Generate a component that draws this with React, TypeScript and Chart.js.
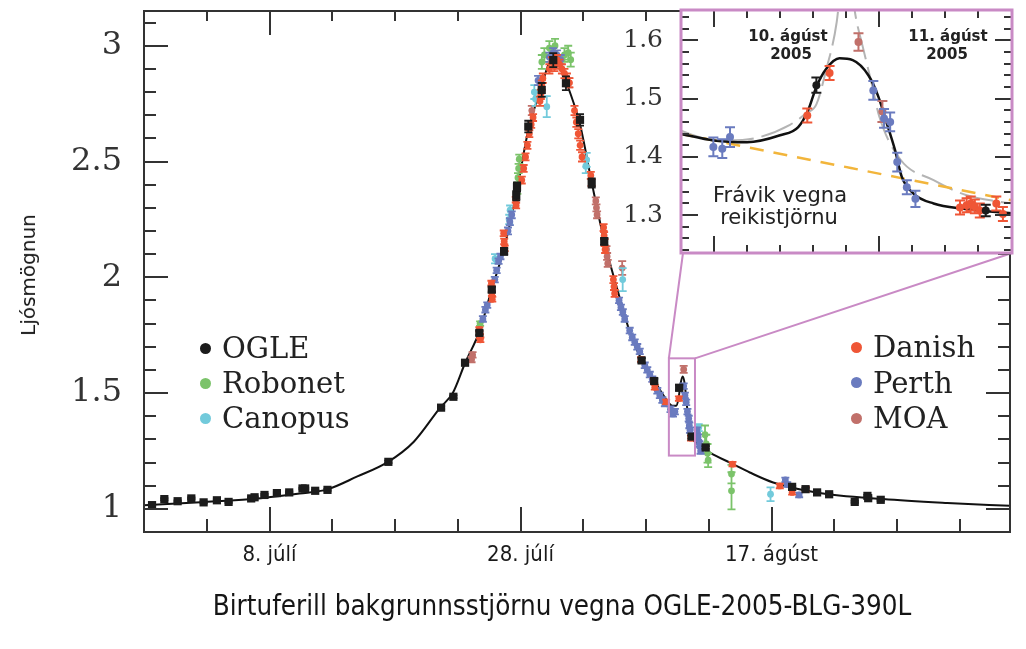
import React, { useEffect, useRef } from 'react';
import { Chart, registerables } from 'chart.js';

Chart.register(...registerables);

type P = [number, number, number];
type XY = [number, number];

// ---------- axis ticks (x: day counted from 30 June 2005, so 1 = 1. júlí) ----------
const xTickDays = [3, 8, 13, 18, 23, 28, 33, 38, 43, 48, 53, 58, 63];
const xTickText = ['', '8. júlí', '', '', '', '28. júlí', '', '', '', '17. ágúst', '', '', ''];
const yTickValues = [1.0, 1.1, 1.2, 1.3, 1.4, 1.5, 1.6, 1.7, 1.8, 1.9, 2.0, 2.1, 2.2, 2.3, 2.4, 2.5, 2.6, 2.7, 2.8, 2.9, 3.0, 3.1];
const yTickText = ['1', '', '', '', '', '1.5', '', '', '', '', '2', '', '', '', '', '2.5', '', '', '', '', '3', ''];

const insetXTicks = [40.0, 40.2, 40.4, 40.6, 40.8, 41.0, 41.2, 41.4, 41.6];
const insetXLong = [true, false, false, false, false, true, false, false, false];
const insetYTicks = [1.24, 1.26, 1.28, 1.3, 1.32, 1.34, 1.36, 1.38, 1.4, 1.42, 1.44, 1.46, 1.48, 1.5, 1.52, 1.54, 1.56, 1.58, 1.6, 1.62, 1.64];
const insetYText = ['', '', '', '1.3', '', '', '', '', '1.4', '', '', '', '', '1.5', '', '', '', '', '1.6', '', ''];

// ---------- main light curve: model ----------
const modelCurve: XY[] = [
  [-2, 1.015], [2.5, 1.029], [7.3, 1.046], [10.4, 1.066], [12.6, 1.084], [15, 1.14], [17.45, 1.203],
  [19.5, 1.29], [21.6, 1.437], [22.6, 1.5], [23.6, 1.632], [24.72, 1.765], [25.7, 1.947], [26.69, 2.125],
  [27.66, 2.36], [28.62, 2.635], [29.69, 2.825], [30.2, 2.915], [30.75, 2.952], [31.3, 2.905], [31.62, 2.85],
  [32.74, 2.66], [33.67, 2.41], [34.7, 2.15], [35.7, 1.95], [36.85, 1.74], [37.65, 1.645], [38.7, 1.55],
  [39.64, 1.47], [40.1, 1.445], [40.4, 1.445], [40.6, 1.48], [40.75, 1.54], [40.92, 1.572], [41.08, 1.54],
  [41.25, 1.45], [41.45, 1.36], [41.65, 1.31], [42.0, 1.285], [42.6, 1.262], [43.1, 1.243], [44.94, 1.193],
  [46.27, 1.157], [48.13, 1.114], [51.58, 1.071], [56.89, 1.042], [62, 1.025], [67, 1.013],
];

// ---------- main observations [day, magnification, error] ----------
const ogleMain: P[] = [
  [-1.36, 1.016, 0.004], [-0.38, 1.042, 0.004], [0.68, 1.033, 0.004], [1.77, 1.045, 0.004],
  [2.75, 1.028, 0.004], [3.81, 1.037, 0.004], [4.74, 1.03, 0.004], [6.54, 1.045, 0.004],
  [6.81, 1.05, 0.004], [7.6, 1.06, 0.004], [8.59, 1.068, 0.004], [9.57, 1.071, 0.004],
  [10.63, 1.088, 0.004], [10.84, 1.088, 0.004], [11.64, 1.078, 0.004], [12.62, 1.082, 0.004],
  [17.47, 1.203, 0.005], [21.67, 1.437, 0.006], [22.65, 1.484, 0.006], [23.58, 1.631, 0.01],
  [24.72, 1.76, 0.01], [25.71, 1.947, 0.012], [26.69, 2.112, 0.015], [27.66, 2.352, 0.02],
  [27.72, 2.39, 0.02], [28.62, 2.651, 0.025], [29.69, 2.809, 0.03], [30.61, 2.938, 0.03],
  [31.62, 2.838, 0.03], [32.74, 2.68, 0.025], [33.67, 2.407, 0.02], [34.67, 2.155, 0.015],
  [37.65, 1.641, 0.01], [38.65, 1.552, 0.01], [40.64, 1.523, 0.012], [41.63, 1.312, 0.008],
  [42.75, 1.265, 0.006], [49.64, 1.095, 0.005], [50.71, 1.085, 0.005], [51.63, 1.071, 0.004],
  [52.59, 1.063, 0.004], [54.63, 1.03, 0.004], [55.64, 1.056, 0.004], [55.7, 1.046, 0.004],
  [56.7, 1.039, 0.004],
];
const robonetMain: P[] = [
  [24.78, 1.8, 0.01], [27.75, 2.38, 0.02], [27.8, 2.43, 0.02], [27.85, 2.47, 0.02], [27.9, 2.51, 0.02],
  [29.7, 2.93, 0.03], [29.9, 2.96, 0.03], [30.3, 2.99, 0.03], [30.75, 3.0, 0.03], [31.5, 2.96, 0.03],
  [31.8, 2.97, 0.03], [32.0, 2.94, 0.03],
  [42.7, 1.32, 0.04], [42.8, 1.28, 0.04], [42.9, 1.24, 0.04], [42.95, 1.21, 0.03],
  [44.81, 1.15, 0.04], [44.81, 1.078, 0.08],
];
const canopusMain: P[] = [
  [25.97, 2.08, 0.02], [27.1, 2.25, 0.02], [27.17, 2.29, 0.02], [29.1, 2.8, 0.03], [29.2, 2.77, 0.03],
  [30.09, 2.737, 0.045], [33.2, 2.48, 0.03], [33.27, 2.507, 0.03], [36.14, 1.99, 0.05],
  [42.2, 1.351, 0.015], [47.92, 1.063, 0.03],
];
const danishMain: P[] = [
  [24.72, 1.775, 0.01], [24.76, 1.745, 0.01], [24.8, 1.73, 0.01],
  [25.68, 1.975, 0.01], [25.72, 1.93, 0.01], [25.75, 1.905, 0.01],
  [26.66, 2.19, 0.012], [26.7, 2.155, 0.012], [26.74, 2.125, 0.012],
  [27.62, 2.335, 0.012], [27.65, 2.31, 0.012],
  [28.1, 2.42, 0.015], [28.25, 2.47, 0.015], [28.4, 2.52, 0.015], [28.55, 2.57, 0.015], [28.7, 2.62, 0.015],
  [28.85, 2.66, 0.015], [29.0, 2.69, 0.015],
  [29.55, 2.76, 0.02], [29.62, 2.79, 0.02], [29.7, 2.83, 0.02], [29.78, 2.86, 0.02],
  [30.3, 2.9, 0.02], [30.5, 2.93, 0.02], [30.7, 2.91, 0.02], [30.9, 2.94, 0.02], [31.1, 2.92, 0.02],
  [31.3, 2.9, 0.02], [31.5, 2.88, 0.02], [31.7, 2.86, 0.02], [31.9, 2.84, 0.02],
  [32.3, 2.72, 0.02], [32.45, 2.67, 0.02], [32.6, 2.62, 0.02], [32.75, 2.57, 0.02], [32.9, 2.52, 0.02],
  [33.6, 2.44, 0.015], [33.66, 2.41, 0.015],
  [34.62, 2.215, 0.015], [34.66, 2.18, 0.015], [34.7, 2.15, 0.015], [34.74, 2.12, 0.015],
  [35.4, 1.99, 0.015], [35.45, 1.96, 0.015], [35.5, 1.93, 0.015],
  [37.6, 1.645, 0.01], [38.62, 1.555, 0.01], [38.7, 1.525, 0.01],
  [39.6, 1.462, 0.01], [40.62, 1.476, 0.01], [41.58, 1.305, 0.01],
  [44.89, 1.193, 0.01], [48.66, 1.099, 0.01], [49.64, 1.071, 0.01], [50.73, 1.085, 0.01],
];
const perthMain: P[] = [
  [25.0, 1.82, 0.012], [25.2, 1.86, 0.012], [25.35, 1.88, 0.012],
  [25.95, 1.99, 0.012], [26.1, 2.03, 0.012], [26.25, 2.07, 0.012], [26.4, 2.09, 0.012],
  [27.0, 2.2, 0.015], [27.15, 2.24, 0.015], [27.3, 2.27, 0.015],
  [29.4, 2.85, 0.02], [30.3, 2.95, 0.02], [30.6, 2.97, 0.02], [30.9, 2.96, 0.02], [31.2, 2.94, 0.02],
  [35.85, 1.9, 0.012], [36.0, 1.87, 0.012], [36.15, 1.85, 0.012], [36.3, 1.82, 0.012],
  [36.7, 1.77, 0.012], [36.9, 1.74, 0.012], [37.1, 1.72, 0.012], [37.3, 1.7, 0.012], [37.5, 1.68, 0.012],
  [37.9, 1.62, 0.012], [38.1, 1.6, 0.012], [38.3, 1.58, 0.012], [38.5, 1.56, 0.012],
  [38.9, 1.51, 0.012], [39.1, 1.49, 0.012], [39.3, 1.47, 0.012], [39.5, 1.455, 0.012],
  [39.95, 1.43, 0.012], [40.15, 1.41, 0.012], [40.3, 1.42, 0.012],
  [41.0, 1.53, 0.012], [41.1, 1.49, 0.012], [41.2, 1.46, 0.012],
  [41.3, 1.42, 0.012], [41.4, 1.39, 0.012], [41.45, 1.36, 0.012], [41.5, 1.34, 0.012],
  [42.05, 1.34, 0.012], [42.15, 1.31, 0.012], [42.25, 1.28, 0.012], [42.35, 1.25, 0.012],
  [49.1, 1.125, 0.01], [49.25, 1.105, 0.01], [50.2, 1.06, 0.01],
];
const moaMain: P[] = [
  [24.1, 1.645, 0.012], [24.18, 1.665, 0.012], [28.9, 2.72, 0.02], [31.85, 2.84, 0.02],
  [34.0, 2.33, 0.015], [34.05, 2.3, 0.015], [34.1, 2.27, 0.015],
  [34.85, 2.12, 0.015], [34.9, 2.09, 0.015], [34.95, 2.06, 0.015],
  [36.1, 2.04, 0.03], [41.0, 1.602, 0.015],
];

// ---------- inset (10.–11. ágúst) ----------
const insetModel: XY[] = [
  [39.79, 1.44], [40.0, 1.428], [40.2, 1.425], [40.4, 1.437], [40.51, 1.451], [40.57, 1.48], [40.62, 1.52],
  [40.68, 1.551], [40.76, 1.569], [40.84, 1.566], [40.935, 1.54], [40.996, 1.503], [41.047, 1.457],
  [41.097, 1.411], [41.137, 1.366], [41.208, 1.337], [41.33, 1.32], [41.51, 1.311], [41.81, 1.303],
];
const insetSingleLens: XY[] = [
  [39.79, 1.446], [39.92, 1.433], [40.08, 1.428], [40.25, 1.432], [40.46, 1.455], [40.56, 1.475],
  [40.62, 1.49], [40.68, 1.55], [40.743, 1.631], [40.77, 1.7], [40.8, 1.75], [40.83, 1.7], [40.855, 1.646],
  [40.9, 1.59], [40.96, 1.52], [41.0, 1.47], [41.13, 1.395], [41.33, 1.36], [41.53, 1.334], [41.73, 1.323],
  [41.81, 1.32],
];
const insetBaseline: XY[] = [[39.79, 1.44], [41.81, 1.325]];
const ogleInset: P[] = [[40.62, 1.523, 0.013], [41.646, 1.308, 0.01]];
const danishInset: P[] = [
  [40.565, 1.471, 0.012], [40.7, 1.544, 0.012], [41.49, 1.313, 0.012], [41.53, 1.317, 0.012],
  [41.555, 1.32, 0.012], [41.58, 1.315, 0.012], [41.61, 1.308, 0.012], [41.71, 1.32, 0.012], [41.75, 1.302, 0.012],
];
const perthInset: P[] = [
  [39.996, 1.417, 0.016], [40.05, 1.414, 0.016], [40.097, 1.434, 0.017], [40.965, 1.514, 0.016],
  [41.03, 1.466, 0.016], [41.067, 1.46, 0.016], [41.11, 1.391, 0.016], [41.168, 1.348, 0.012], [41.22, 1.328, 0.014],
];
const moaInset: P[] = [[40.875, 1.597, 0.015], [41.02, 1.478, 0.018]];

// ---------- window shown in the inset ----------
const zoomX = [39.82, 41.9];
const zoomY = [1.23, 1.65];

// ---------- styles / layout ----------
const C = {
  ogle: '#1c1c1c', robonet: '#7bc36a', canopus: '#72cadb', danish: '#ef5636', perth: '#6a7bbf', moa: '#c1706a',
  pink: '#c98ac5', axis: '#333333',
};
const legendLeft = [['OGLE', C.ogle], ['Robonet', C.robonet], ['Canopus', C.canopus]];
const legendRight = [['Danish', C.danish], ['Perth', C.perth], ['MOA', C.moa]];

const W = 1026, H = 649;
const AREA = { left: 144, top: 11, right: 1010, bottom: 532 };
const INSET_CANVAS = { left: 600, top: 0, width: 426, height: 270 };
const INSET = { left: 681, top: 10, right: 1012, bottom: 253 };

const SERIF = "'DejaVu Serif', serif";
const SANS = "'DejaVu Sans', sans-serif";
const SANS_COND = "'DejaVu Sans Condensed', 'DejaVu Sans', sans-serif";

function pts(label: string, list: P[], color: string, style: string, radius: number, order: number, cap: number, ew: number) {
  return {
    label,
    data: list.map((p) => ({ x: p[0], y: p[1] })),
    errorBars: list.map((p) => p[2]),
    errorCap: cap,
    errorWidth: ew,
    backgroundColor: color,
    borderColor: color,
    pointStyle: style,
    pointRadius: radius,
    pointBorderWidth: 0,
    showLine: false,
    order,
  } as any;
}

function line(label: string, list: XY[], color: string, width: number, order: number, dash: number[] = []) {
  return {
    label,
    data: list.map((p) => ({ x: p[0], y: p[1] })),
    showLine: true,
    borderColor: color,
    backgroundColor: color,
    borderWidth: width,
    borderDash: dash,
    pointRadius: 0,
    cubicInterpolationMode: 'monotone',
    order,
  } as any;
}

const errorBarPlugin = {
  id: 'errorBars',
  beforeDatasetDraw(chart: any, args: any) {
    const ds = chart.data.datasets[args.index];
    const errs: number[] | undefined = ds.errorBars;
    if (!errs) return;
    const { ctx, chartArea: a } = chart;
    const ys = chart.scales.y;
    const cap = ds.errorCap;
    ctx.save();
    ctx.beginPath();
    ctx.rect(a.left, a.top, a.right - a.left, a.bottom - a.top);
    ctx.clip();
    ctx.strokeStyle = ds.borderColor;
    ctx.lineWidth = ds.errorWidth;
    ctx.beginPath();
    args.meta.data.forEach((el: any, i: number) => {
      const v = ds.data[i].y;
      const t = ys.getPixelForValue(v + errs[i]);
      const b = ys.getPixelForValue(v - errs[i]);
      ctx.moveTo(el.x, t); ctx.lineTo(el.x, b);
      ctx.moveTo(el.x - cap, t); ctx.lineTo(el.x + cap, t);
      ctx.moveTo(el.x - cap, b); ctx.lineTo(el.x + cap, b);
    });
    ctx.stroke();
    ctx.restore();
  },
};

const mainFramePlugin = {
  id: 'mainFrame',
  afterDatasetsDraw(chart: any) {
    const { ctx, chartArea: a } = chart;
    const x = chart.scales.x, y = chart.scales.y;
    ctx.save();
    const wx0 = x.getPixelForValue(zoomX[0]), wx1 = x.getPixelForValue(zoomX[1]);
    const wyT = y.getPixelForValue(zoomY[1]), wyB = y.getPixelForValue(zoomY[0]);
    ctx.strokeStyle = C.pink;
    ctx.lineWidth = 2;
    ctx.strokeRect(wx0, wyT, wx1 - wx0, wyB - wyT);
    ctx.beginPath();
    ctx.moveTo(wx0, wyT); ctx.lineTo(INSET.left + 2, INSET.bottom);
    ctx.moveTo(wx1, wyT); ctx.lineTo(INSET.right, INSET.bottom);
    ctx.stroke();
    ctx.strokeStyle = C.axis;
    ctx.lineWidth = 2;
    ctx.beginPath();
    y.ticks.forEach((t: any, i: number) => {
      const p = Math.round(y.getPixelForValue(t.value));
      const L = yTickText[i] ? 24 : 12;
      ctx.moveTo(a.left, p); ctx.lineTo(a.left + L, p);
      ctx.moveTo(a.right, p); ctx.lineTo(a.right - L, p);
    });
    x.ticks.forEach((t: any, i: number) => {
      const p = Math.round(x.getPixelForValue(t.value));
      const long = !!xTickText[i];
      ctx.moveTo(p, a.bottom); ctx.lineTo(p, a.bottom - (long ? 25 : 13));
      ctx.moveTo(p, a.top); ctx.lineTo(p, a.top + (long ? 24 : 10));
    });
    ctx.stroke();
    ctx.strokeRect(a.left, a.top, a.right - a.left, a.bottom - a.top);
    ctx.restore();
  },
};

const insetFramePlugin = {
  id: 'insetFrame',
  beforeDraw(chart: any) {
    const { ctx, chartArea: a } = chart;
    ctx.save();
    ctx.fillStyle = '#ffffff';
    ctx.fillRect(a.left, a.top, a.right - a.left, a.bottom - a.top);
    ctx.restore();
  },
  afterDraw(chart: any) {
    const { ctx, chartArea: a } = chart;
    const x = chart.scales.x, y = chart.scales.y;
    ctx.save();
    ctx.strokeStyle = C.axis;
    ctx.lineWidth = 2;
    ctx.beginPath();
    y.ticks.forEach((t: any, i: number) => {
      const p = Math.round(y.getPixelForValue(t.value));
      const L = insetYText[i] ? 17 : 8;
      ctx.moveTo(a.left, p); ctx.lineTo(a.left + L, p);
      ctx.moveTo(a.right, p); ctx.lineTo(a.right - L, p);
    });
    insetXTicks.forEach((v, i) => {
      const p = Math.round(x.getPixelForValue(v));
      const L = insetXLong[i] ? 17 : 8;
      ctx.moveTo(p, a.top); ctx.lineTo(p, a.top + L);
      ctx.moveTo(p, a.bottom); ctx.lineTo(p, a.bottom - L);
    });
    ctx.stroke();
    ctx.strokeStyle = C.pink;
    ctx.lineWidth = 3;
    ctx.strokeRect(a.left, a.top, a.right - a.left, a.bottom - a.top);
    ctx.restore();
  },
};

function mainConfig(): any {
  return {
    type: 'scatter',
    data: {
      datasets: [
        line('Líkan', modelCurve, '#111111', 2, 10),
        pts('OGLE', ogleMain, C.ogle, 'rect', 5.8, 1, 4, 1.8),
        pts('Danish', danishMain, C.danish, 'circle', 3.4, 2, 4, 1.8),
        pts('Perth', perthMain, C.perth, 'circle', 3.4, 3, 4, 1.8),
        pts('Robonet', robonetMain, C.robonet, 'circle', 3.4, 4, 4, 1.8),
        pts('Canopus', canopusMain, C.canopus, 'circle', 3.4, 5, 4, 1.8),
        pts('MOA', moaMain, C.moa, 'circle', 3.4, 6, 4, 1.8),
      ],
    },
    options: {
      responsive: false,
      animation: false,
      devicePixelRatio: 1,
      layout: { padding: { left: 0, top: AREA.top, right: W - AREA.right, bottom: 0 } },
      plugins: { legend: { display: false }, tooltip: { enabled: false } },
      scales: {
        x: {
          type: 'linear', min: -2, max: 67,
          grid: { display: false, drawTicks: false },
          border: { display: false },
          afterBuildTicks: (s: any) => { s.ticks = xTickDays.map((v) => ({ value: v })); },
          ticks: {
            autoSkip: false, maxRotation: 0, minRotation: 0, padding: 10, color: '#1a1a1a',
            font: { family: SANS_COND, size: 22 },
            callback: (_v: any, i: number) => xTickText[i],
          },
          afterFit: (s: any) => { s.height = H - AREA.bottom; s.paddingLeft = 0; s.paddingRight = 0; },
        },
        y: {
          type: 'linear', min: 0.9, max: 3.15,
          grid: { display: false, drawTicks: false },
          border: { display: false },
          afterBuildTicks: (s: any) => { s.ticks = yTickValues.map((v) => ({ value: v })); },
          ticks: {
            autoSkip: false, padding: 22, color: '#333333',
            font: { family: SERIF, size: 32 },
            callback: (_v: any, i: number) => yTickText[i],
          },
          afterFit: (s: any) => { s.width = AREA.left; s.paddingTop = 0; s.paddingBottom = 0; },
        },
      },
    },
    plugins: [errorBarPlugin, mainFramePlugin],
  };
}

function insetConfig(): any {
  return {
    type: 'scatter',
    data: {
      datasets: [
        line('Einföld linsa', insetSingleLens, '#b4b4b4', 2, 12, [34, 8]),
        line('Frávik vegna reikistjörnu', insetBaseline, '#f2b53b', 2.5, 11, [14, 10]),
        line('Líkan', insetModel, '#111111', 2.5, 10),
        pts('OGLE', ogleInset, C.ogle, 'circle', 4, 1, 5, 2),
        pts('Danish', danishInset, C.danish, 'circle', 4, 2, 5, 2),
        pts('Perth', perthInset, C.perth, 'circle', 4, 3, 5, 2),
        pts('MOA', moaInset, C.moa, 'circle', 4, 4, 5, 2),
      ],
    },
    options: {
      responsive: false,
      animation: false,
      devicePixelRatio: 1,
      layout: {
        padding: {
          left: 0,
          top: INSET.top - INSET_CANVAS.top,
          right: INSET_CANVAS.left + INSET_CANVAS.width - INSET.right,
          bottom: INSET_CANVAS.top + INSET_CANVAS.height - INSET.bottom,
        },
      },
      plugins: { legend: { display: false }, tooltip: { enabled: false } },
      scales: {
        x: { type: 'linear', min: 39.8, max: 41.805, display: false },
        y: {
          type: 'linear', min: 1.235, max: 1.652,
          grid: { display: false, drawTicks: false },
          border: { display: false },
          afterBuildTicks: (s: any) => { s.ticks = insetYTicks.map((v) => ({ value: v })); },
          ticks: {
            autoSkip: false, padding: 18, color: '#333333',
            font: { family: SERIF, size: 25 },
            callback: (_v: any, i: number) => insetYText[i],
          },
          afterFit: (s: any) => { s.width = INSET.left - INSET_CANVAS.left; s.paddingTop = 0; s.paddingBottom = 0; },
        },
      },
    },
    plugins: [errorBarPlugin, insetFramePlugin],
  };
}

const textBase: React.CSSProperties = { position: 'absolute', whiteSpace: 'nowrap', lineHeight: 1, color: '#151515' };

export default function App() {
  const mainRef = useRef<HTMLCanvasElement>(null);
  const insetRef = useRef<HTMLCanvasElement>(null);

  useEffect(() => {
    const main = new Chart(mainRef.current as HTMLCanvasElement, mainConfig());
    const inset = new Chart(insetRef.current as HTMLCanvasElement, insetConfig());
    return () => {
      main.destroy();
      inset.destroy();
    };
  }, []);

  const center = 'translate(-50%, -50%)';
  return (
    <div style={{ position: 'fixed', left: 0, top: 0, width: W, height: H, background: '#fff', overflow: 'hidden' }}>
      <canvas ref={mainRef} width={W} height={H} style={{ position: 'absolute', left: 0, top: 0 }} />
      <canvas
        ref={insetRef}
        width={INSET_CANVAS.width}
        height={INSET_CANVAS.height}
        style={{ position: 'absolute', left: INSET_CANVAS.left, top: INSET_CANVAS.top }}
      />
      <div style={{ ...textBase, left: 28, top: 275, transform: 'translate(-50%, -50%) rotate(-90deg)', font: `20px ${SANS}` }}>
        Ljósmögnun
      </div>
      <div style={{ ...textBase, left: 562, top: 605, transform: center, font: `27.5px ${SANS_COND}` }}>
        Birtuferill bakgrunnsstjörnu vegna OGLE-2005-BLG-390L
      </div>
      {legendLeft.map(([name, color], i) => (
        <React.Fragment key={name}>
          <div style={{ position: 'absolute', left: 205 - 5.5, top: 348 + 35 * i - 5.5, width: 11, height: 11, borderRadius: '50%', background: color }} />
          <div style={{ ...textBase, left: 222, top: 348 + 35 * i, transform: 'translateY(-50%)', font: `29px ${SERIF}`, color: '#222' }}>{name}</div>
        </React.Fragment>
      ))}
      {legendRight.map(([name, color], i) => (
        <React.Fragment key={name}>
          <div style={{ position: 'absolute', left: 856 - 5.5, top: 347 + 35.5 * i - 5.5, width: 11, height: 11, borderRadius: '50%', background: color }} />
          <div style={{ ...textBase, left: 873, top: 347 + 35.5 * i, transform: 'translateY(-50%)', font: `29px ${SERIF}`, color: '#222' }}>{name}</div>
        </React.Fragment>
      ))}
      <div style={{ ...textBase, left: 788, top: 36, transform: center, font: `bold 15px ${SANS}`, color: '#222' }}>10. ágúst</div>
      <div style={{ ...textBase, left: 791, top: 54, transform: center, font: `bold 15px ${SANS}`, color: '#222' }}>2005</div>
      <div style={{ ...textBase, left: 948, top: 36, transform: center, font: `bold 15px ${SANS}`, color: '#222' }}>11. ágúst</div>
      <div style={{ ...textBase, left: 947, top: 54, transform: center, font: `bold 15px ${SANS}`, color: '#222' }}>2005</div>
      <div style={{ ...textBase, left: 780, top: 195, transform: center, font: `21px ${SANS}`, color: '#222' }}>Frávik vegna</div>
      <div style={{ ...textBase, left: 779, top: 217, transform: center, font: `21px ${SANS}`, color: '#222' }}>reikistjörnu</div>
    </div>
  );
}
